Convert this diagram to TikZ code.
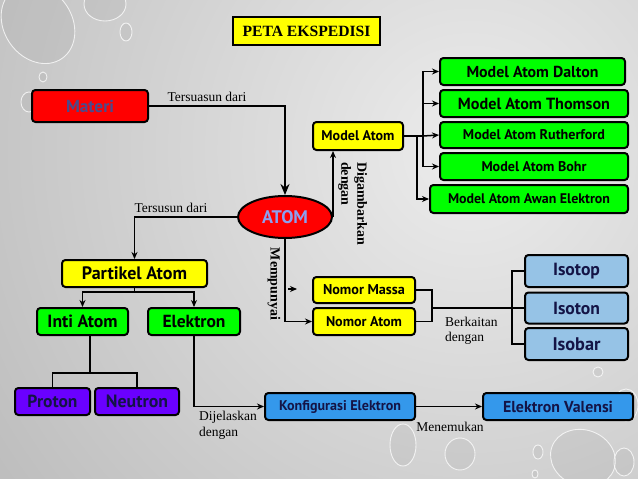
\documentclass[tikz,border=0pt]{standalone}
\usepackage{fontspec}
\usepackage{graphicx}
\setmainfont{Liberation Serif}
\newfontfamily\boxfont{PT Sans}
\usetikzlibrary{shapes.geometric,arrows.meta}
\definecolor{cyel}{RGB}{255,255,0}
\definecolor{cgrn}{RGB}{0,255,0}
\definecolor{cred}{RGB}{255,0,0}
\definecolor{cpur}{RGB}{106,0,255}
\definecolor{cblu}{RGB}{52,152,235}
\definecolor{clbl}{RGB}{150,195,230}
\definecolor{cnav}{RGB}{20,20,70}
\definecolor{cmat}{RGB}{75,75,140}
\definecolor{catm}{RGB}{140,160,240}
\definecolor{bgin}{RGB}{236,236,236}
\definecolor{bgout}{RGB}{155,155,155}
\newcommand{\fw}[2]{\resizebox{#1pt}{!}{#2}}
\begin{document}
\begin{tikzpicture}[x=1pt,y=-1pt,
  bx/.style={draw=black, line width=2pt, rounded corners=3.5pt, inner sep=0pt, font=\boxfont\bfseries},
  lbl/.style={inner sep=0pt, font=\fontsize{13.5}{15}\selectfont},
  rlbl/.style={inner sep=0pt, font=\bfseries\fontsize{14}{15}\selectfont, rotate=-90},
  conn/.style={line width=1.5pt},
  arr/.style={conn, -{Stealth[length=7pt,width=6pt]}},
  bigarr/.style={line width=2.4pt, -{Stealth[length=11pt,width=9pt]}},
  drop/.style={fill=black!40, fill opacity=0.15, draw=white, draw opacity=0.75, line width=0.9pt}]
% background
\begin{scope}
\clip (0,0) rectangle (638,479);
\fill[bgout] (0,0) rectangle (638,479);
\shade[inner color=bgin, outer color=bgout] (470,150) circle (1000pt);
% water drops
\draw[drop, rotate around={35:(38,24)}] (38,24) ellipse [x radius=34, y radius=42];
\draw[drop] (105,4) ellipse [x radius=21, y radius=17];
\draw[drop] (126,32) ellipse [x radius=6, y radius=9];
\draw[drop] (43,77) ellipse [x radius=4, y radius=5];
\draw[drop] (29,102) ellipse [x radius=8, y radius=10];
\draw[drop] (403,445) ellipse [x radius=13, y radius=21];
\draw[drop] (460,454) ellipse [x radius=15, y radius=16];
\draw[drop] (538,452) ellipse [x radius=5, y radius=7];
\draw[drop] (535,474) ellipse [x radius=3, y radius=4];
\draw[drop, rotate around={-20:(583,458)}] (583,458) ellipse [x radius=33, y radius=28];
\draw[drop] (626,405) ellipse [x radius=12, y radius=16];
\draw[drop] (598,372) ellipse [x radius=5, y radius=5];
\draw[drop] (624,462) ellipse [x radius=10, y radius=14];
\end{scope}
\useasboundingbox (0,0) rectangle (638,479);

% title
\node[draw=black, line width=2pt, fill=cyel, minimum width=147pt, minimum height=28pt, inner sep=0pt, font=\bfseries] (title) at (306.5,31) {\fw{128}{PETA EKSPEDISI}};

% nodes
\node[bx, fill=cred, text=cmat, minimum width=116pt, minimum height=32pt] (materi) at (90,106) {\fw{48}{Materi}};
\node[ellipse, draw=black, line width=2pt, fill=cred, text=catm, minimum width=94pt, minimum height=42pt, inner sep=0pt, font=\boxfont\bfseries] (atom) at (285,217) {\fw{46}{ATOM}};
\node[bx, fill=cyel, minimum width=90pt, minimum height=28pt] (modelatom) at (358,136) {\fw{73}{Model Atom}};
\node[bx, fill=cgrn, minimum width=185pt, minimum height=27pt] (dalton) at (532.5,71.5) {\fw{132}{Model Atom Dalton}};
\node[bx, fill=cgrn, minimum width=188pt, minimum height=27pt] (thomson) at (534,103.5) {\fw{152}{Model Atom Thomson}};
\node[bx, fill=cgrn, minimum width=188pt, minimum height=26pt] (rutherford) at (534,135) {\fw{142}{Model Atom Rutherford}};
\node[bx, fill=cgrn, minimum width=188pt, minimum height=27pt] (bohr) at (534,166.5) {\fw{105}{Model Atom Bohr}};
\node[bx, fill=cgrn, minimum width=198pt, minimum height=28pt] (awan) at (529,199) {\fw{162}{Model Atom Awan Elektron}};
\node[bx, fill=cyel, minimum width=145pt, minimum height=27pt] (partikel) at (134.5,273.5) {\fw{105}{Partikel Atom}};
\node[bx, fill=cgrn, minimum width=91pt, minimum height=27pt] (inti) at (82.5,321.5) {\fw{70}{Inti Atom}};
\node[bx, fill=cgrn, minimum width=92pt, minimum height=27pt] (elektron) at (194,321.5) {\fw{63}{Elektron}};
\node[bx, fill=cpur, text=cnav, minimum width=75pt, minimum height=27pt] (proton) at (52.5,401.5) {\fw{50}{Proton}};
\node[bx, fill=cpur, text=cnav, minimum width=84pt, minimum height=27pt] (neutron) at (137,401.5) {\fw{62}{Neutron}};
\node[bx, fill=cblu, text=cnav, minimum width=150pt, minimum height=27pt] (konfig) at (340,406.5) {\fw{122}{Konfigurasi Elektron}};
\node[bx, fill=cblu, text=cnav, minimum width=150pt, minimum height=27pt] (valensi) at (558,406.5) {\fw{110}{Elektron Valensi}};
\node[bx, fill=cyel, minimum width=102pt, minimum height=26pt] (nm) at (364,290) {\fw{82}{Nomor Massa}};
\node[bx, fill=cyel, minimum width=102pt, minimum height=27pt] (na) at (364,321.5) {\fw{76}{Nomor Atom}};
\node[bx, fill=clbl, text=cnav, minimum width=103pt, minimum height=32pt] (isotop) at (576.5,271) {\fw{47}{Isotop}};
\node[bx, fill=clbl, text=cnav, minimum width=103pt, minimum height=31pt] (isoton) at (576.5,308) {\fw{47}{Isoton}};
\node[bx, fill=clbl, text=cnav, minimum width=103pt, minimum height=32pt] (isobar) at (576.5,344) {\fw{48}{Isobar}};

% labels
\node[lbl] (l1) at (207,97) {Tersuasun dari};
\node[lbl] (l2) at (171,208) {Tersusun dari};
\node[rlbl, anchor=south west] (l3) at (354,162) {Digambarkan};
\node[rlbl, anchor=south west] (l4) at (338,162) {dengan};
\node[rlbl] (l5) at (274,284) {Mempunyai};
\node[lbl, anchor=west] (l6) at (199,417) {Dijelaskan};
\node[lbl, anchor=west] (l7) at (199,433) {dengan};
\node[lbl] (l8) at (450,427) {Menemukan};
\node[lbl, anchor=west] (l9) at (445,322) {Berkaitan};
\node[lbl, anchor=west] (l10) at (445,338) {dengan};

% coordinates
\coordinate (t1) at (423,136);
\coordinate (t2) at (417,136);
\coordinate (pb) at (134.5,292);
\coordinate (ip) at (90,373);
\coordinate (b1) at (432,308);
\coordinate (b2) at (512,308);
\coordinate (s1) at (288,289);
\coordinate (s2) at (297,289);

% connectors
\draw[bigarr] (materi.east) -| (atom.north);
\draw[arr] (atom.west) -| (partikel.north);
\draw[conn] (partikel.south) -- (pb);
\draw[arr] (pb) -| (inti.north);
\draw[arr] (pb) -| (elektron.north);
\draw[conn] (inti.south -| ip) -- (ip);
\draw[conn] (proton.north) |- (ip) -| (neutron.north);
\draw[arr] (elektron.south) |- (konfig.west);
\draw[arr] (konfig.east) -- (valensi.west);
\draw[arr] (atom.south) |- (na.west);
\draw[arr] (s1) -- (s2);
\draw[arr] (atom.east) -- (atom.east |- modelatom.south);
\draw[conn] (modelatom.east) -- (t1);
\draw[arr] (t1) |- (dalton.west);
\draw[arr] (t1) |- (thomson.west);
\draw[arr] (t1) -- (rutherford.west);
\draw[arr] (t1) |- (bohr.west);
\draw[arr] (t2) |- (awan.west);
\draw[conn] (nm.east) -| (b1) |- (na.east);
\draw[conn] (b1) -- (isoton.west);
\draw[conn] (b2) |- (isotop.west);
\draw[conn] (b2) |- (isobar.west);
\end{tikzpicture}
\end{document}
